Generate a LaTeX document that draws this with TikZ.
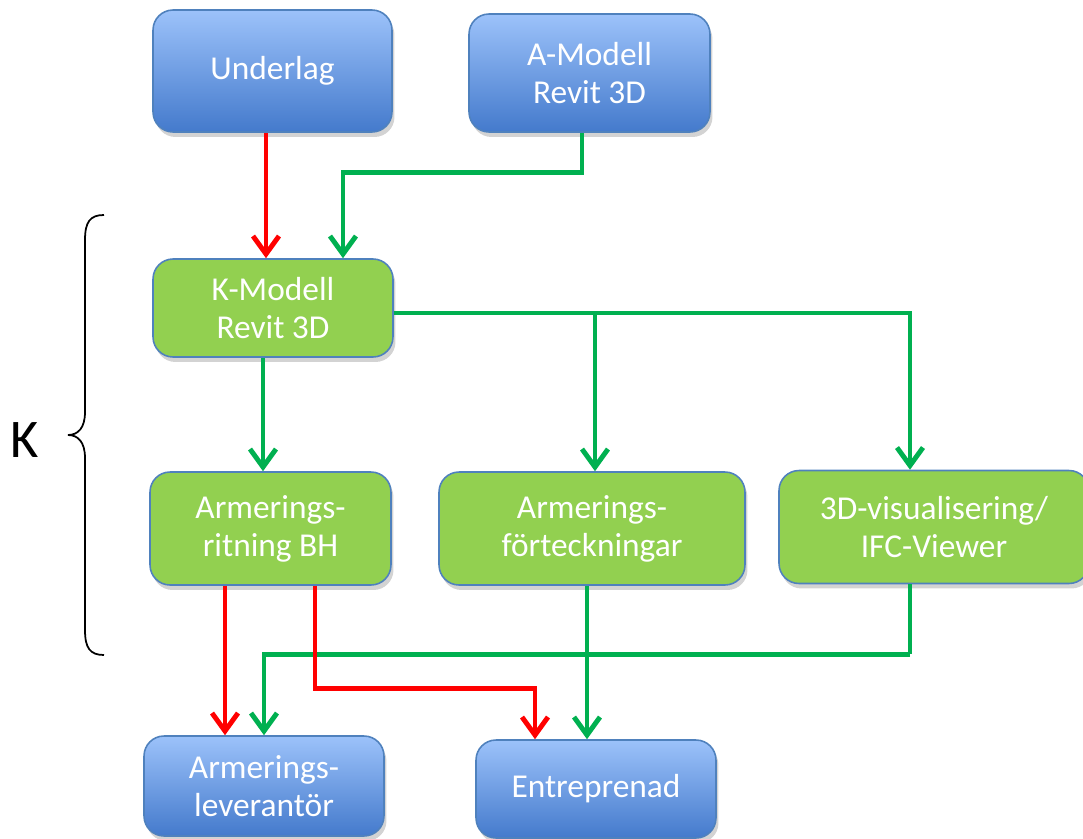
\documentclass[tikz,border=0pt]{standalone}
\usepackage{fontspec}
\setmainfont{Carlito}
\usetikzlibrary{arrows.meta,shadows}
\definecolor{boxtop}{RGB}{156,194,250}
\definecolor{boxbot}{RGB}{68,122,204}
\definecolor{boxline}{RGB}{79,129,189}
\definecolor{kgreen}{RGB}{146,208,80}
\definecolor{lgreen}{RGB}{0,176,80}
\tikzset{
  box/.style={rounded corners=0.4cm,draw=boxline,line width=0.9pt,text=white,align=center,
    font=\fontsize{19}{21.5}\selectfont,inner sep=0pt,
    drop shadow={opacity=0.35,shadow xshift=0.05cm,shadow yshift=-0.1cm}},
  bluebox/.style={box,top color=boxtop,bottom color=boxbot},
  greenbox/.style={box,fill=kgreen},
  redline/.style={line width=2.8pt,red,-{Straight Barb[length=0.36cm,width=0.52cm]}},
  greenline/.style={line width=2.8pt,lgreen,-{Straight Barb[length=0.36cm,width=0.52cm]}},
  greenplain/.style={line width=2.8pt,lgreen}
}
\begin{document}
\begin{tikzpicture}[x=0.02cm,y=-0.02cm]
  \useasboundingbox (0,0) rectangle (1083,839);
  % input
  \node[bluebox,minimum width=4.78cm,minimum height=2.44cm] (under) at (272.5,71) {Underlag};
  \node[bluebox,minimum width=4.82cm,minimum height=2.36cm] (amod) at (589.5,73) {A-Modell\\Revit 3D};
  % K
  \node[greenbox,minimum width=4.8cm,minimum height=1.96cm] (kmod) at (273,308) {K-Modell\\Revit 3D};
  \node[greenbox,minimum width=4.82cm,minimum height=2.26cm] (ritn) at (270.5,528.5) {Armerings-\\ritning BH};
  \node[greenbox,minimum width=6.12cm,minimum height=2.26cm] (fort) at (592,528.5) {Armerings-\\förteckningar};
  \node[greenbox,minimum width=6.2cm,minimum height=2.26cm] (vis) at (934,527) {3D-visualisering/\\IFC-Viewer};
  % output
  \node[bluebox,minimum width=4.8cm,minimum height=2.0cm] (lev) at (264,786) {Armerings-\\leverantör};
  \node[bluebox,minimum width=4.8cm,minimum height=1.96cm] (entr) at (596,789) {Entreprenad};
  % brace
  \draw[line width=1pt] (104,215) .. controls (90,215) and (85,222) .. (85,240)
    -- (85,412) .. controls (85,428) and (78,435) .. (68,435)
    .. controls (78,435) and (85,442) .. (85,458)
    -- (85,630) .. controls (85,648) and (90,655) .. (104,655);
  \node[font=\fontsize{31}{31}\selectfont] (klabel) at (25,440) {K};
  % connectors
  \draw[redline] ([xshift=-0.13cm]under.south) -- ([xshift=-0.13cm]under.south |- kmod.north);
  \draw[greenline] ([xshift=-0.15cm]amod.south) -- ++(0,40) -| ([xshift=1.4cm]kmod.north);
  \draw[greenline] ([xshift=-0.2cm]kmod.south) -- ([xshift=-0.2cm]kmod.south |- ritn.north);
  \draw[greenline] ([yshift=-0.1cm]kmod.east) -| ([xshift=-0.48cm]vis.north);
  \draw[greenline] ([xshift=0.06cm]fort.north |- kmod.east) ++(0,5) -- ([xshift=0.06cm]fort.north);
  \draw[redline] ([xshift=-0.91cm]ritn.south) -- ([xshift=-0.91cm]ritn.south |- lev.north);
  \draw[greenplain] ([xshift=-0.48cm]vis.south) -- ++(0,70) coordinate (vbend);
  \draw[greenline] (vbend) -| (lev.north);
  \draw[redline] ([xshift=0.89cm]ritn.south) -- ++(0,103) -| ([xshift=-1.22cm]entr.north);
  \draw[greenline] ([xshift=-0.1cm]fort.south) -- ([xshift=-0.1cm]fort.south |- entr.north);
\end{tikzpicture}
\end{document}
